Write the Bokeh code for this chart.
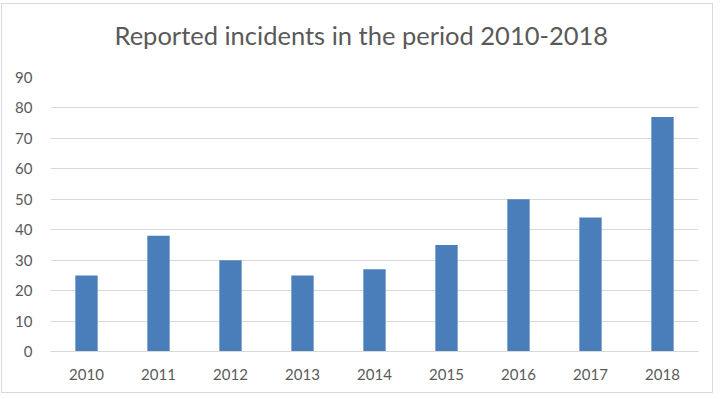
from bokeh.plotting import figure
from bokeh.models import Title, SingleIntervalTicker
from bokeh.embed import file_html
from bokeh.resources import INLINE

years = ["2010", "2011", "2012", "2013", "2014", "2015", "2016", "2017", "2018"]
incidents = [25, 38, 30, 25, 27, 35, 50, 44, 77]

FONT = "Lato"
GREY = "#595959"

p = figure(x_range=years, y_range=(0, 90), width=712, height=390,
           output_backend="svg", toolbar_location=None,
           min_border_left=48, min_border_right=16, min_border_bottom=43, min_border_top=73)
p.styles = {"border": "1px solid #d9d9d9", "margin": "3px 0 0 1px"}

# spacer between frame and title
p.add_layout(Title(text=" ", text_font_size="1px", standoff=25), "above")
t = Title(text="Reported incidents in the period 2010-2018", align="left",
          text_font=FONT, text_font_size="25.5px", text_font_style="normal",
          text_color=GREY, offset=64, standoff=0)
p.add_layout(t, "above")

p.vbar(x=years, top=incidents, width=0.31, color="#4a7ebb", line_color=None)

p.outline_line_color = None
p.xgrid.grid_line_color = None
p.ygrid.grid_line_color = "#d9d9d9"
p.ygrid.grid_line_width = 1
p.yaxis.ticker = SingleIntervalTicker(interval=10)

for ax in (p.xaxis, p.yaxis):
    ax.major_tick_line_color = None
    ax.minor_tick_line_color = None
    ax.major_label_text_font = FONT
    ax.major_label_text_font_size = "15px"
    ax.major_label_text_color = GREY
p.yaxis.axis_line_color = None
p.xaxis.axis_line_color = "#d9d9d9"
p.yaxis.major_label_standoff = 12
p.xaxis.major_label_standoff = 11

open("out.html", "w").write(file_html(p, INLINE))
